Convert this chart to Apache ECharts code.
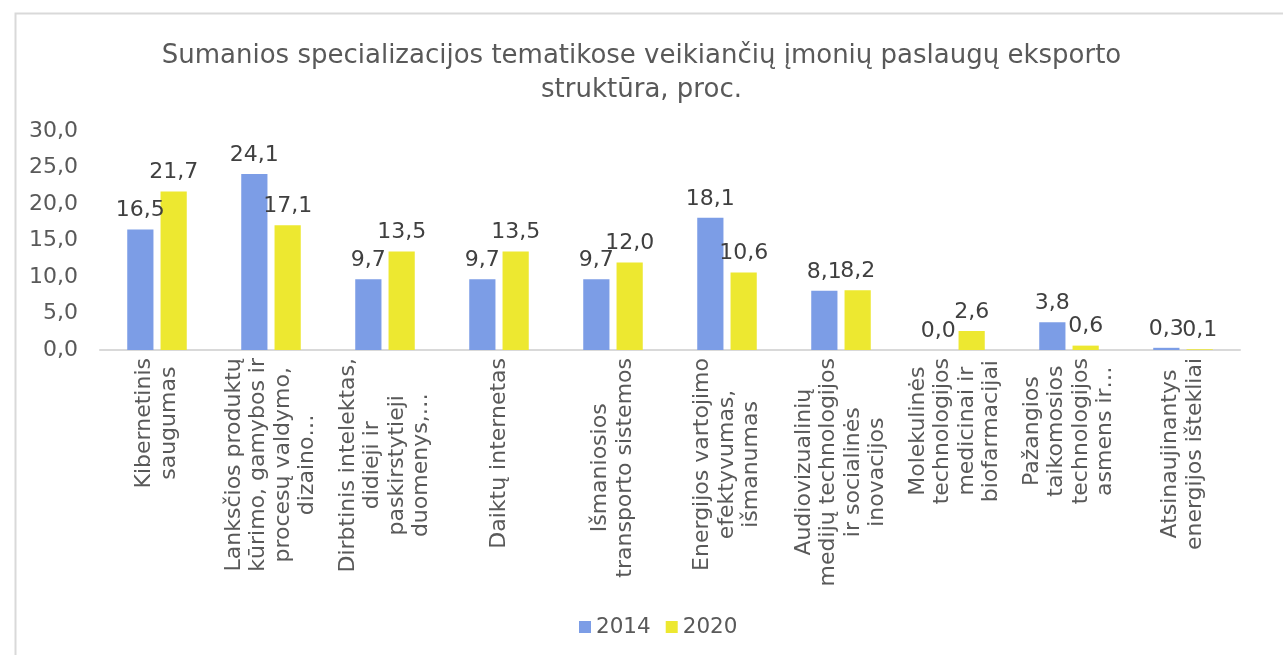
<!DOCTYPE html>
<html><head><meta charset="utf-8">
<script src="https://cdn.jsdelivr.net/npm/echarts@6/dist/echarts.min.js"></script>
<style>html,body{margin:0;padding:0;background:#fff}#c{width:1283px;height:655px}</style>
</head><body><div id="c"></div>
<script>
const titleText = 'Sumanios specializacijos tematikose veikiančių įmonių paslaugų eksporto\nstruktūra, proc.';
const categories = [
  'Kibernetinis\nsaugumas',
  'Lanksčios produktų\nkūrimo, gamybos ir\nprocesų valdymo,\ndizaino…',
  'Dirbtinis intelektas,\ndidieji ir\npaskirstytieji\nduomenys,…',
  'Daiktų internetas',
  'Išmaniosios\ntransporto sistemos',
  'Energijos vartojimo\nefektyvumas,\nišmanumas',
  'Audiovizualinių\nmedijų technologijos\nir socialinės\ninovacijos',
  'Molekulinės\ntechnologijos\nmedicinai ir\nbiofarmacijai',
  'Pažangios\ntaikomosios\ntechnologijos\nasmens ir…',
  'Atsinaujinantys\nenergijos ištekliai'
];
const seriesNames = ['2014', '2020'];
const values2014 = [16.5, 24.1, 9.7, 9.7, 9.7, 18.1, 8.1, 0.0, 3.8, 0.3];
const values2020 = [21.7, 17.1, 13.5, 13.5, 12.0, 10.6, 8.2, 2.6, 0.6, 0.1];

const FONT = '"DejaVu Sans", Verdana, sans-serif';
const fmt = v => Number(v).toFixed(1).replace('.', ',');
const chart = echarts.init(document.getElementById('c'), null, {renderer: 'canvas'});
const barLabel = {
  show: true, position: 'top', distance: 8,
  fontFamily: FONT, fontSize: 22, color: '#404040',
  formatter: p => fmt(p.value)
};
chart.setOption({
  animation: false,
  backgroundColor: '#fff',
  graphic: [{
    type: 'rect', left: 13, top: 11, silent: true,
    shape: {width: 1300, height: 700},
    style: {fill: 'none', stroke: '#d9d9d9', lineWidth: 2}
  }],
  title: {
    text: titleText, left: 'center', top: 34,
    textStyle: {fontFamily: FONT, fontSize: 26, fontWeight: 'normal', color: '#595959', lineHeight: 34}
  },
  legend: {
    data: seriesNames, bottom: 12, left: 574,
    itemWidth: 12, itemHeight: 12, itemGap: 15, icon: 'rect',
    textStyle: {fontFamily: FONT, fontSize: 21.5, color: '#595959'}
  },
  grid: {left: 100, right: 43, top: 131, bottom: 305, containLabel: false},
  xAxis: {
    type: 'category', data: categories,
    axisLine: {lineStyle: {color: '#d9d9d9', width: 2}},
    axisTick: {show: false},
    axisLabel: {
      interval: 0, rotate: 90, margin: 8,
      formatter: v => v.split('\n').map(l => '{c|' + l + '}').join('\n'),
      rich: {c: {align: 'center', fontFamily: FONT, fontSize: 22, color: '#595959', lineHeight: 24.5}}
    }
  },
  yAxis: {
    type: 'value', min: 0, max: 30, interval: 5,
    axisLine: {show: false}, axisTick: {show: false},
    splitLine: {show: false},
    axisLabel: {fontFamily: FONT, fontSize: 22, color: '#595959', margin: 22, formatter: v => fmt(v)}
  },
  series: [
    {name: seriesNames[0], type: 'bar', data: values2014, barWidth: '23%', barGap: '27%',
     itemStyle: {color: '#7c9de6'}, label: barLabel},
    {name: seriesNames[1], type: 'bar', data: values2020, barWidth: '23%',
     itemStyle: {color: '#ede830'}, label: barLabel}
  ]
});
</script></body></html>
